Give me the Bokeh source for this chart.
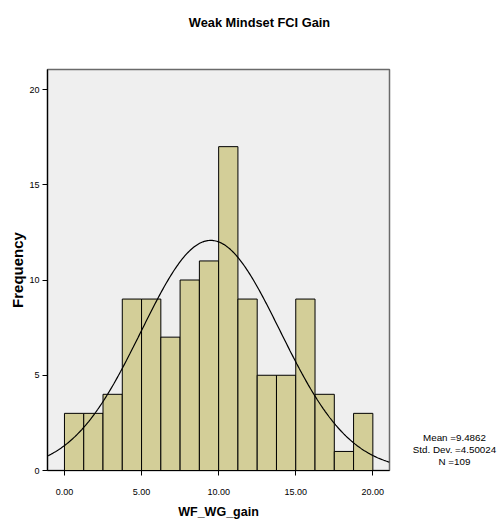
import numpy as np
from bokeh.plotting import figure
from bokeh.models import Label, FixedTicker, NumeralTickFormatter, Range1d
from bokeh.embed import file_html
from bokeh.resources import INLINE

# ---- data ----
bin_edges = [0.0, 1.25, 2.5, 3.75, 5.0, 6.25, 7.5, 8.75, 10.0,
             11.25, 12.5, 13.75, 15.0, 16.25, 17.5, 18.75, 20.0]
counts = [3, 3, 4, 9, 9, 7, 10, 11, 17, 9, 5, 5, 9, 4, 1, 3]
mean_val = 9.4862
std_val = 4.50024
n_val = 109
x_ticks = [0, 5, 10, 15, 20]
y_ticks = [0, 5, 10, 15, 20]
title_text = "Weak Mindset FCI Gain"
x_label = "WF_WG_gain"
y_label = "Frequency"

SANS = "Liberation Sans"

p = figure(frame_width=342, frame_height=401, output_backend="svg",
           toolbar_location=None, x_range=Range1d(-1.1, 21.08),
           y_range=Range1d(0, 21.05), title=None,
           min_border_left=47, min_border_right=108,
           min_border_top=69, min_border_bottom=51)
p.background_fill_color = "#EFEFEF"
p.border_fill_color = "white"
p.outline_line_color = "#6A6A6A"
p.outline_line_width = 1.5
p.xgrid.visible = False
p.ygrid.visible = False

left = bin_edges[:-1]
right = bin_edges[1:]
p.quad(left=left, right=right, bottom=0, top=counts,
       fill_color="#D3CE98", line_color="black", line_width=1)

bw = bin_edges[1] - bin_edges[0]
xs = np.linspace(-1.1, 21.08, 300)
ys = n_val * bw * np.exp(-0.5 * ((xs - mean_val) / std_val) ** 2) / (std_val * np.sqrt(2 * np.pi))
p.line(xs, ys, line_color="black", line_width=1.2)

for ax in (p.xaxis[0], p.yaxis[0]):
    ax.axis_line_color = "black"
    ax.axis_line_width = 1.2
    ax.major_tick_line_color = "black"
    ax.major_tick_in = 0
    ax.major_tick_out = 5
    ax.minor_tick_line_color = None
    ax.major_label_text_font = SANS
    ax.major_label_text_font_size = "9px"
    ax.major_label_text_color = "black"
    ax.axis_label_text_font = SANS
    ax.axis_label_text_font_style = "bold"
    ax.axis_label_text_color = "black"

p.xaxis.ticker = FixedTicker(ticks=x_ticks)
p.xaxis.formatter = NumeralTickFormatter(format="0.00")
p.yaxis.ticker = FixedTicker(ticks=y_ticks)
p.xaxis.axis_label = x_label
p.yaxis.axis_label = y_label
p.xaxis.axis_label_text_font_size = "12.5px"
p.yaxis.axis_label_text_font_size = "15px"
p.xaxis.major_label_standoff = 13
p.xaxis.axis_label_standoff = 7
p.yaxis.major_label_standoff = 3
p.yaxis.axis_label_standoff = 0

# title, placed in the panel above the frame
p.add_layout(Label(x=212, y=47, x_units="screen", y_units="screen",
                   text=title_text, text_align="center", text_baseline="middle",
                   text_font=SANS, text_font_style="bold",
                   text_font_size="12.8px", text_color="black"), "above")

# statistics block, placed in the panel right of the frame
stats = ["Mean =%.4f" % mean_val, "Std. Dev. =%.5f" % std_val, "N =%d" % n_val]
p.add_layout(Label(x=65, y=21, x_units="screen", y_units="screen",
                   text="\n".join(stats), text_align="center", text_baseline="middle",
                   text_line_height=1.05,
                   text_font=SANS, text_font_size="9.8px", text_color="black"),
             "right")

open("out.html", "w").write(file_html(p, INLINE))
